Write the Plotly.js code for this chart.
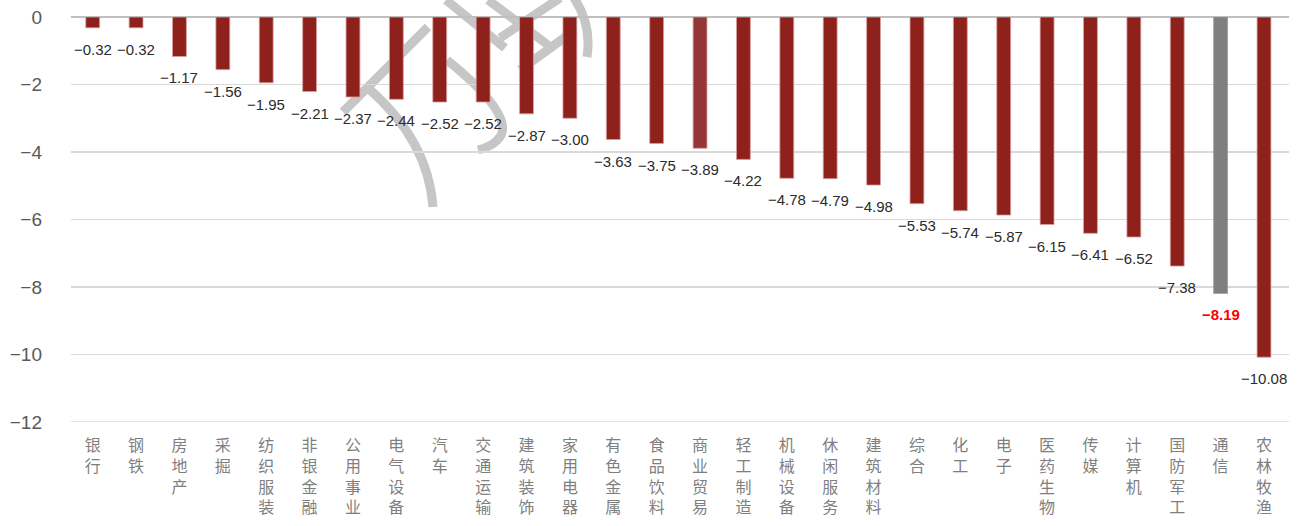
<!DOCTYPE html>
<html>
<head>
<meta charset="utf-8">
<script src="https://cdn.plot.ly/plotly-3.0.1.min.js"></script>
<style>html,body{margin:0;padding:0;background:#fff;}#chart{width:1303px;height:526px;}</style>
</head>
<body>
<div id="chart"></div>
<script>
const categories = ['银行','钢铁','房地产','采掘','纺织服装','非银金融','公用事业','电气设备','汽车','交通运输','建筑装饰','家用电器','有色金属','食品饮料','商业贸易','轻工制造','机械设备','休闲服务','建筑材料','综合','化工','电子','医药生物','传媒','计算机','国防军工','通信','农林牧渔'];
const values = [-0.32,-0.32,-1.17,-1.56,-1.95,-2.21,-2.37,-2.44,-2.52,-2.52,-2.87,-3.00,-3.63,-3.75,-3.89,-4.22,-4.78,-4.79,-4.98,-5.53,-5.74,-5.87,-6.15,-6.41,-6.52,-7.38,-8.19,-10.08];
const yTicks = [0,-2,-4,-6,-8,-10,-12];

const barColors = categories.map(c => c === '通信' ? '#7f7f7f' : (c === '商业贸易' ? '#943636' : '#8f211c'));
const lineColors = categories.map(c => c === '通信' ? '#9a9a9a' : '#d9a0a0');

const trace = {
  type: 'bar',
  x: categories,
  y: values,
  width: 0.32,
  marker: {color: barColors, line: {color: lineColors, width: 0.8}},
  hoverinfo: 'x+y'
};

const annotations = categories.map((c, i) => ({
  x: c, y: values[i], xref: 'x', yref: 'y',
  text: (c === '通信' ? '<b>' : '') + values[i].toFixed(2).replace('-', '\u2212') + (c === '通信' ? '</b>' : ''),
  showarrow: false, yanchor: 'top', yshift: -11,
  font: {family: 'Liberation Sans, Arial, sans-serif', size: 15, color: c === '通信' ? '#ff0000' : '#2b2b2b'}
}));

// watermark approximation (pixel -> paper)
const L = 71, R = 1289, T = 17, B = 422;
function P(px, py) { return ((px - L) / (R - L)).toFixed(4) + ',' + ((B - py) / (B - T)).toFixed(4); }
const wm = [
  'M' + P(368,88) + ' Q' + P(428,140) + ' ' + P(433,207),
  'M' + P(343,112) + ' L' + P(428,27),
  'M' + P(447,60) + ' Q' + P(515,115) + ' ' + P(500,137) + ' Q' + P(494,146) + ' ' + P(478,150),
  'M' + P(446,0) + ' L' + P(505,48),
  'M' + P(488,0) + ' L' + P(548,45),
  'M' + P(500,38) + ' L' + P(560,-2),
  'M' + P(520,70) + ' L' + P(575,30),
  'M' + P(574,-2) + ' Q' + P(592,25) + ' ' + P(587,57)
];
const shapes = wm.map(p => ({type: 'path', path: p, xref: 'paper', yref: 'paper', layer: 'below', line: {color: '#c6c6c6', width: 9}}));
shapes.push({type: 'line', xref: 'paper', yref: 'y', x0: 0, x1: 1, y0: yTicks[yTicks.length - 1], y1: yTicks[yTicks.length - 1], layer: 'above', line: {color: '#d9d9d9', width: 1.5}});

const layout = {
  width: 1303, height: 526,
  margin: {l: 71, r: 14, t: 17, b: 104},
  paper_bgcolor: '#ffffff', plot_bgcolor: 'rgba(0,0,0,0)',
  showlegend: false,
  xaxis: {
    type: 'category', categoryorder: 'array', categoryarray: categories,
    tickvals: categories,
    ticktext: categories.map(c => c.split('').join('<br>')),
    tickangle: 0,
    tickfont: {family: 'Noto Sans CJK SC, sans-serif', size: 16, color: '#7f7f7f'},
    showgrid: false, zeroline: false, showline: false,
    ticks: '',
    ticklabelstandoff: 12,
    fixedrange: true
  },
  yaxis: {
    range: [-12, 0], tickvals: yTicks,
    tickfont: {family: 'Liberation Sans, Arial, sans-serif', size: 19, color: '#595959'},
    showgrid: true, gridcolor: '#d9d9d9', gridwidth: 1.5,
    zeroline: true, zerolinecolor: '#bfbfbf', zerolinewidth: 1.5,
    showline: false, ticks: '',
    ticklabelstandoff: 28,
    fixedrange: true
  },
  annotations: annotations,
  shapes: shapes
};

Plotly.newPlot('chart', [trace], layout, {displayModeBar: false, staticPlot: true});
</script>
</body>
</html>
